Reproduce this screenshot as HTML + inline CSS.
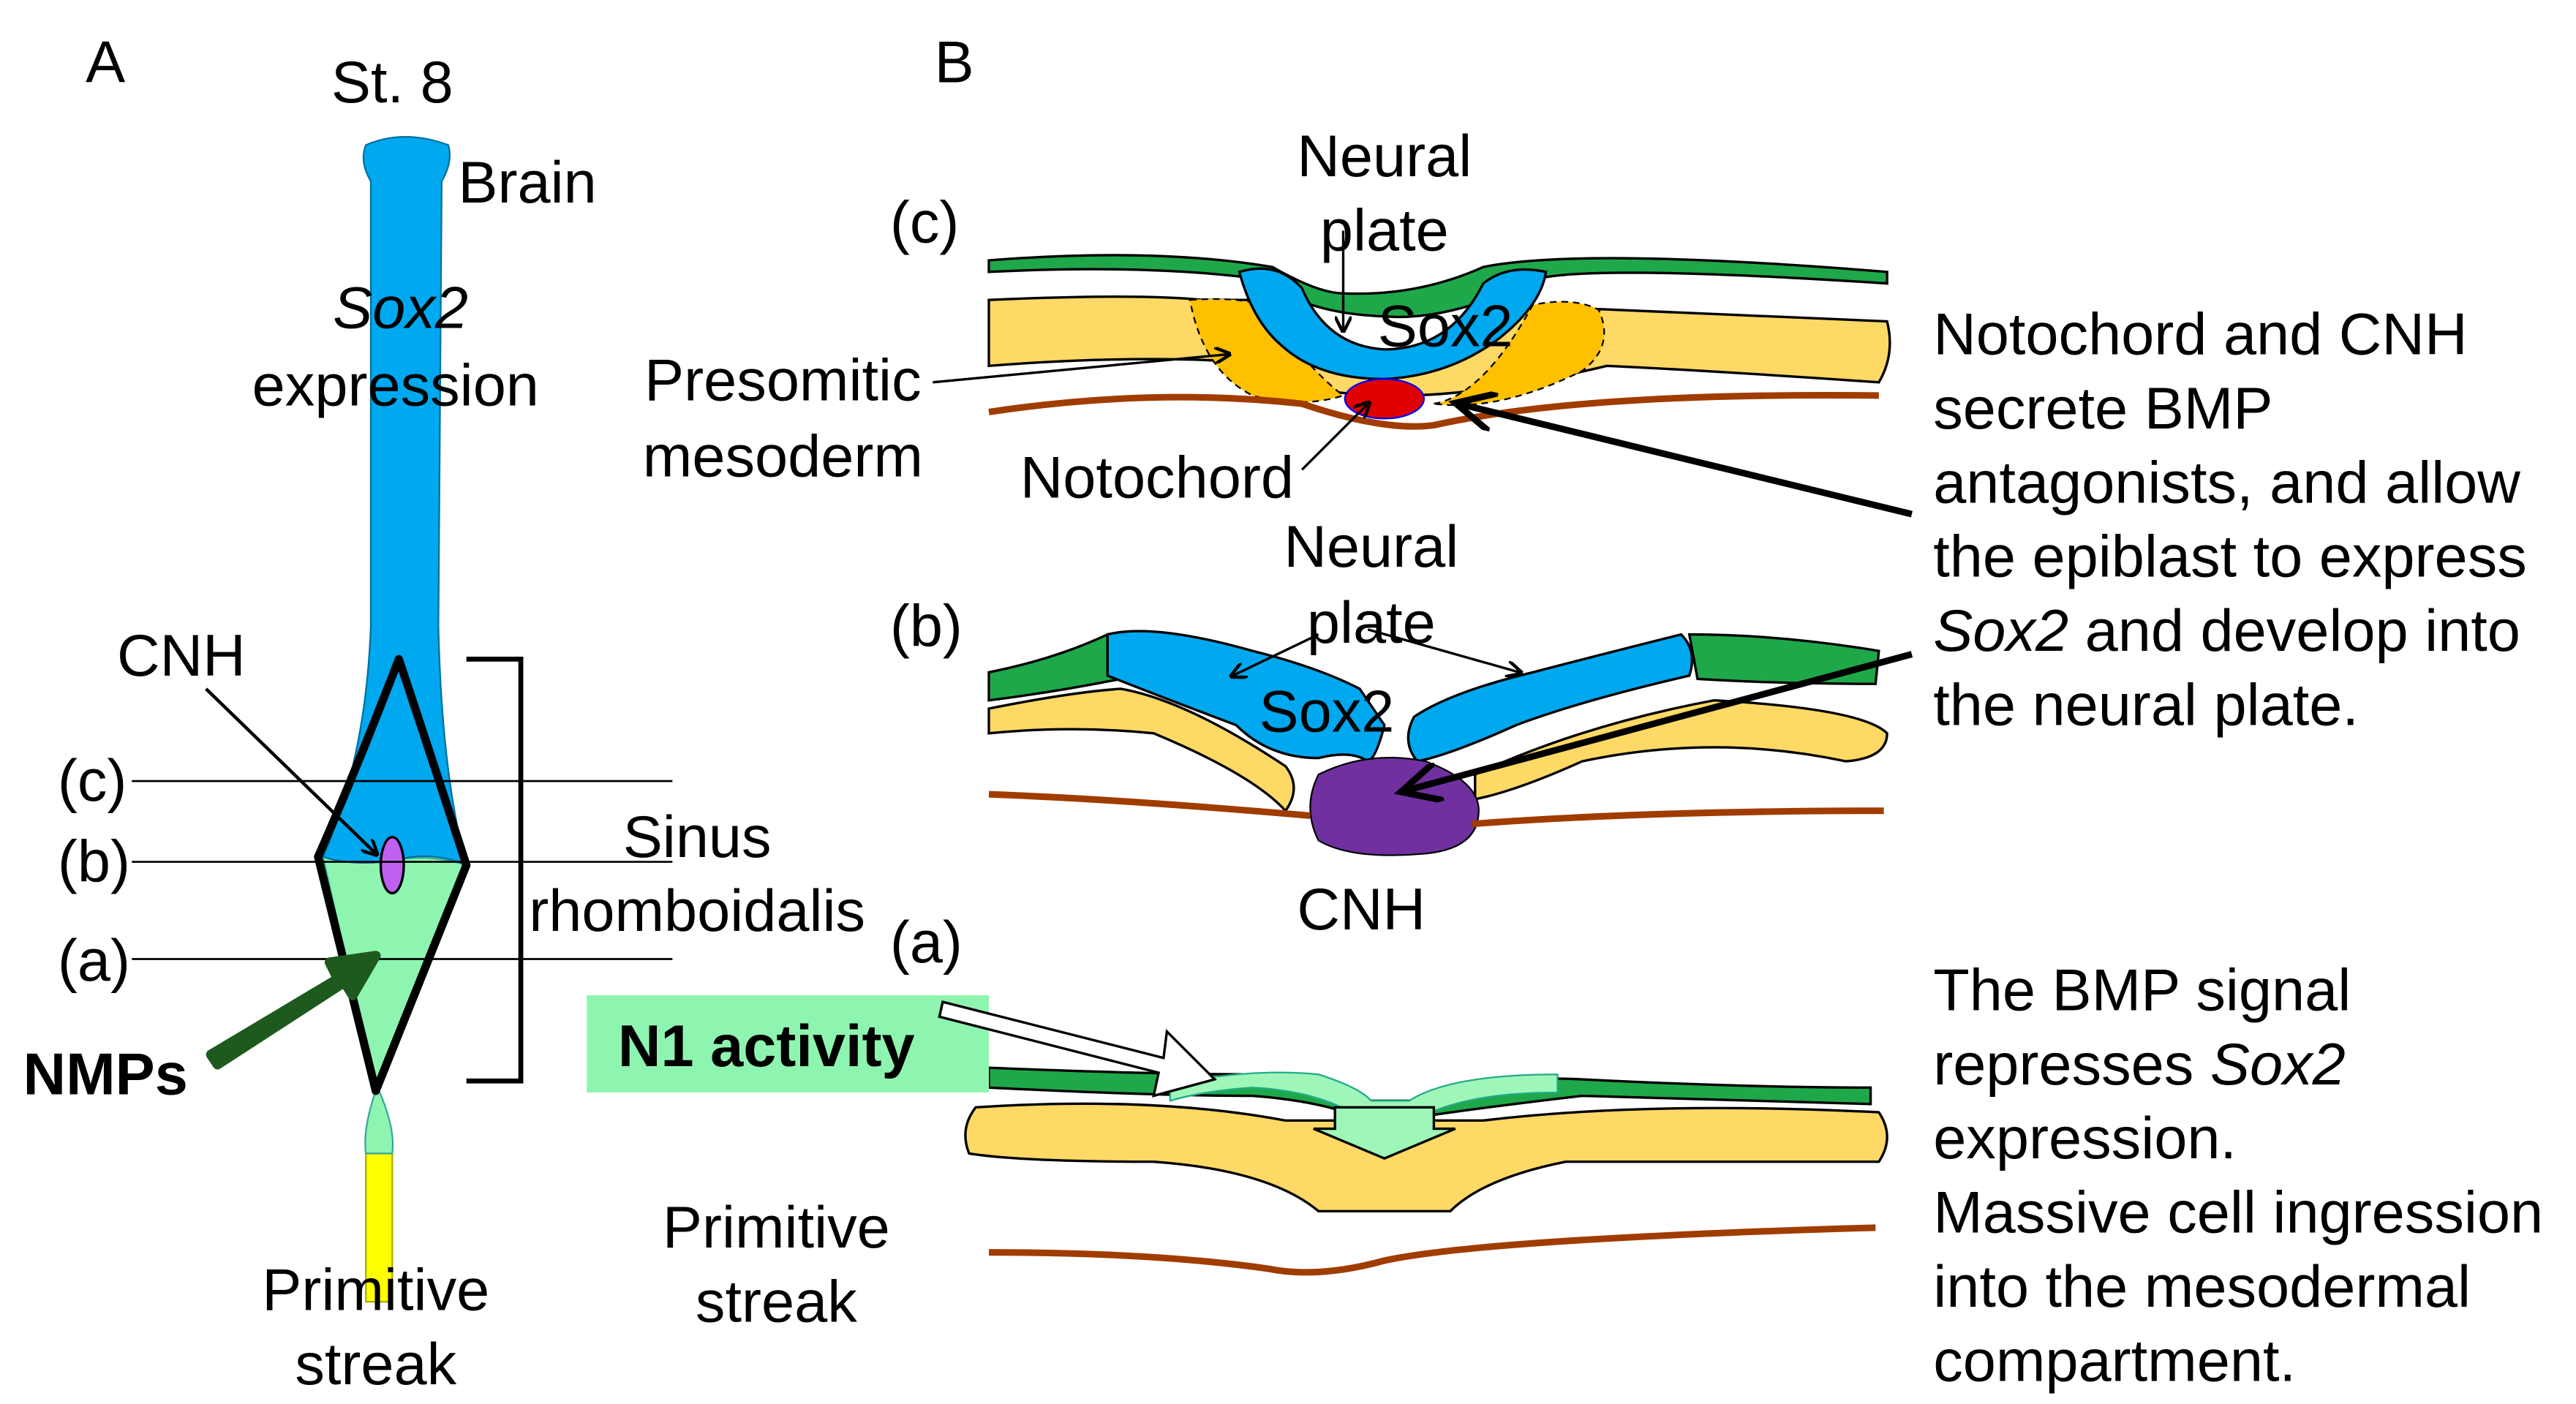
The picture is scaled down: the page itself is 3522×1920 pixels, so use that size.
<!DOCTYPE html>
<html><head><meta charset="utf-8"><style>
html,body{margin:0;padding:0;background:#fff;}
svg{display:block}
text{font-family:"Liberation Sans",Arial,sans-serif;fill:#000}
</style></head><body>
<svg width="3522" height="1920" viewBox="0 0 1563 852" xmlns="http://www.w3.org/2000/svg">
<defs>
<marker id="ah" markerWidth="10" markerHeight="10" refX="8" refY="5" orient="auto" markerUnits="userSpaceOnUse"><path d="M0,0 L10,5 L0,10" fill="none" stroke="#000" stroke-width="2"/></marker>
<marker id="ahb" markerWidth="30" markerHeight="24" refX="22" refY="12" orient="auto" markerUnits="userSpaceOnUse"><path d="M0,0 L24,12 L0,24" fill="none" stroke="#000" stroke-width="4"/></marker>
</defs>
<g font-size="36">
<text x="52" y="50">A</text>
<text x="567" y="50">B</text>
<text x="238" y="62" text-anchor="middle">St. 8</text>
</g>
<!-- yellow streak -->
<rect x="222" y="698" width="16" height="92" fill="#ffff00" stroke="#aa0" stroke-width="1"/>
<!-- green lower -->
<path d="M196,520 L228,662 Q220,685 222,700 L238,700 Q240,685 230,662 L283,525 Q260,518 240,522 Q215,526 196,520Z" fill="#8ef5b0" stroke="#3a9" stroke-width="1"/>
<!-- blue body -->
<path d="M222,88 Q245,78 272,88 Q275,98 268,110 L266,380 Q268,470 283,525 Q262,516 240,522 Q215,526 196,520 Q222,460 225,380 L225,110 Q218,98 222,88Z" fill="#00a8ef" stroke="#0070a0" stroke-width="1"/>
<!-- diamond outline -->
<path d="M242,400 Q215,470 193,520 L228,662 L283,525 Q262,460 242,400Z" fill="none" stroke="#000" stroke-width="5" stroke-linejoin="round"/>
<ellipse cx="238" cy="525" rx="7" ry="17" fill="#c060f0" stroke="#000" stroke-width="1.5"/>
<g stroke="#000" stroke-width="1.2">
<line x1="80" y1="474" x2="408" y2="474"/>
<line x1="80" y1="523" x2="408" y2="523"/>
<line x1="80" y1="582" x2="408" y2="582"/>
</g>
<path d="M283,400 L316,400 L316,656 L283,656" fill="none" stroke="#000" stroke-width="3"/>
<line x1="125" y1="418" x2="228" y2="518" stroke="#000" stroke-width="2" marker-end="url(#ah)"/>
<path d="M128,640 L205,594 L200,584 L228,580 L214,604 L209,596 L132,646Z" fill="#1e5a1e" stroke="#1e5a1e" stroke-width="6" stroke-linejoin="round"/>
<g font-size="36">
<text x="278" y="123">Brain</text>
<text x="243" y="199" text-anchor="middle" font-style="italic">Sox2</text>
<text x="240" y="246" text-anchor="middle">expression</text>
<text x="110" y="410" text-anchor="middle">CNH</text>
<text x="35" y="486">(c)</text>
<text x="35" y="535">(b)</text>
<text x="35" y="595">(a)</text>
<text x="423" y="520" text-anchor="middle">Sinus</text>
<text x="423" y="565" text-anchor="middle">rhomboidalis</text>
<text x="14" y="664" font-weight="bold">NMPs</text>
<text x="228" y="795" text-anchor="middle">Primitive</text>
<text x="228" y="840" text-anchor="middle">streak</text>
</g>

<!-- Section c -->
<path d="M600,158 Q700,150 772,162 Q800,178 815,178 Q860,180 900,162 Q960,150 1145,165 L1145,172 Q960,160 930,170 Q880,195 840,192 Q790,190 770,170 Q700,160 600,165Z" fill="#1fa84a" stroke="#000" stroke-width="1.5"/>
<path d="M600,182 Q690,178 730,182 L765,182 Q800,225 835,228 Q880,228 910,185 L1145,195 Q1150,215 1140,232 Q1040,225 975,222 Q900,240 850,240 Q780,240 760,220 Q690,215 600,222Z" fill="#ffd966" stroke="#000" stroke-width="1.5"/>
<path d="M722,182 Q750,180 765,185 Q795,225 815,240 Q790,248 760,240 Q730,225 722,182Z" fill="#ffc000" stroke="#000" stroke-width="1" stroke-dasharray="4,3"/>
<path d="M870,245 Q900,240 930,185 Q955,180 970,188 Q980,210 960,225 Q910,250 870,245Z" fill="#ffc000" stroke="#000" stroke-width="1" stroke-dasharray="4,3"/>
<path d="M752,165 Q775,158 790,175 Q805,210 840,212 Q880,212 900,172 Q915,160 938,165 Q935,185 910,205 Q880,228 840,230 Q800,230 778,210 Q760,195 752,165Z" fill="#00a8ef" stroke="#000" stroke-width="1.5"/>
<ellipse cx="840" cy="242" rx="24" ry="12" fill="#e00000" stroke="#00f" stroke-width="1"/>
<path d="M600,250 Q700,235 790,245 Q840,262 870,258 Q960,238 1140,240" fill="none" stroke="#a03c00" stroke-width="4"/>
<line x1="815" y1="140" x2="815" y2="200" stroke="#000" stroke-width="1.5" marker-end="url(#ah)"/>
<line x1="566" y1="232" x2="745" y2="215" stroke="#000" stroke-width="1.5" marker-end="url(#ah)"/>
<line x1="790" y1="285" x2="830" y2="245" stroke="#000" stroke-width="1.5" marker-end="url(#ah)"/>
<line x1="1160" y1="312" x2="885" y2="245" stroke="#000" stroke-width="4" marker-end="url(#ahb)"/>
<g font-size="36">
<text x="540" y="147">(c)</text>
<text x="840" y="107" text-anchor="middle">Neural</text>
<text x="840" y="152" text-anchor="middle">plate</text>
<text x="877" y="210" text-anchor="middle">Sox2</text>
<text x="475" y="243" text-anchor="middle">Presomitic</text>
<text x="475" y="289" text-anchor="middle">mesoderm</text>
<text x="702" y="302" text-anchor="middle">Notochord</text>
</g>

<!-- Section b -->
<path d="M600,408 Q640,400 672,385 L680,412 Q640,420 600,425Z" fill="#1fa84a" stroke="#000" stroke-width="1.5"/>
<path d="M1025,385 Q1080,385 1140,395 L1138,415 Q1080,415 1030,412Z" fill="#1fa84a" stroke="#000" stroke-width="1.5"/>
<path d="M600,430 Q650,420 680,418 Q720,425 780,465 Q790,478 780,492 Q760,470 700,445 Q650,440 600,445Z" fill="#ffd966" stroke="#000" stroke-width="1.5"/>
<path d="M895,470 Q960,440 1040,425 Q1130,430 1145,445 Q1145,460 1120,462 Q1040,445 960,462 Q920,480 895,485Z" fill="#ffd966" stroke="#000" stroke-width="1.5"/>
<path d="M672,385 Q700,378 760,395 Q800,405 825,418 L840,440 Q835,460 830,462 Q820,455 800,460 Q770,460 750,440 Q710,425 672,410Z" fill="#00a8ef" stroke="#000" stroke-width="1.5"/>
<path d="M858,435 Q880,420 930,408 Q980,395 1020,385 Q1030,395 1025,410 Q960,425 920,440 Q880,458 860,462 Q850,450 858,435Z" fill="#00a8ef" stroke="#000" stroke-width="1.5"/>
<path d="M800,470 Q830,455 865,462 Q900,475 897,495 Q895,515 865,518 Q820,522 800,510 Q790,490 800,470Z" fill="#7030a0" stroke="#000" stroke-width="1"/>
<path d="M600,482 Q680,485 795,495" fill="none" stroke="#a03c00" stroke-width="4"/>
<path d="M893,500 Q1000,492 1143,492" fill="none" stroke="#a03c00" stroke-width="4"/>
<line x1="800" y1="385" x2="748" y2="410" stroke="#000" stroke-width="1.5" marker-end="url(#ah)"/>
<line x1="830" y1="382" x2="922" y2="408" stroke="#000" stroke-width="1.5" marker-end="url(#ah)"/>
<line x1="1160" y1="397" x2="852" y2="480" stroke="#000" stroke-width="4" marker-end="url(#ahb)"/>
<g font-size="36">
<text x="540" y="392">(b)</text>
<text x="832" y="344" text-anchor="middle">Neural</text>
<text x="832" y="390" text-anchor="middle">plate</text>
<text x="805" y="444" text-anchor="middle">Sox2</text>
<text x="826" y="564" text-anchor="middle">CNH</text>
</g>

<!-- Section a -->
<path d="M600,648 Q700,652 760,652 Q810,655 830,668 L860,668 Q900,652 960,655 Q1060,660 1135,660 L1135,670 Q1060,668 960,665 Q900,672 860,678 L825,678 Q800,668 760,665 Q700,665 600,660Z" fill="#1fa84a" stroke="#000" stroke-width="1.5"/>
<path d="M710,658 Q760,648 800,652 Q825,660 832,668 L855,668 Q880,652 945,652 L945,663 Q890,663 862,678 L825,678 Q800,662 760,660 Q730,662 710,668Z" fill="#9ef7b8" stroke="#2a8" stroke-width="1"/>
<path d="M592,672 Q700,665 780,680 L900,680 Q1000,668 1140,675 Q1150,690 1140,705 Q1000,705 950,705 Q900,715 880,735 L800,735 Q770,710 700,705 Q620,705 588,700 Q582,685 592,672Z" fill="#ffd966" stroke="#000" stroke-width="1.5"/>
<path d="M810,672 L870,672 L870,685 L883,685 L840,703 L797,685 L810,685Z" fill="#9ef7b8" stroke="#000" stroke-width="1.5"/>
<path d="M600,760 Q700,760 770,770 Q800,776 840,765 Q900,752 1138,745" fill="none" stroke="#a03c00" stroke-width="4"/>
<rect x="356" y="604" width="244" height="59" fill="#8ef5b0"/>
<path d="M572,608 L706,642 L708,626 L737,655 L700,665 L703,651 L570,617Z" fill="#fff" stroke="#000" stroke-width="1.5"/>
<g font-size="36">
<text x="540" y="584">(a)</text>
<text x="465" y="647" text-anchor="middle" font-weight="bold">N1 activity</text>
<text x="471" y="757" text-anchor="middle">Primitive</text>
<text x="471" y="802" text-anchor="middle">streak</text>
</g>

<g font-size="36">
<text x="1173" y="215">Notochord and CNH</text>
<text x="1173" y="260">secrete BMP</text>
<text x="1173" y="305">antagonists, and allow</text>
<text x="1173" y="350">the epiblast to express</text>
<text x="1173" y="395"><tspan font-style="italic">Sox2</tspan> and develop into</text>
<text x="1173" y="440">the neural plate.</text>
<text x="1173" y="613">The BMP signal</text>
<text x="1173" y="658">represses <tspan font-style="italic">Sox2</tspan></text>
<text x="1173" y="703">expression.</text>
<text x="1173" y="748">Massive cell ingression</text>
<text x="1173" y="793">into the mesodermal</text>
<text x="1173" y="838">compartment.</text>
</g>
</svg>
</body></html>
